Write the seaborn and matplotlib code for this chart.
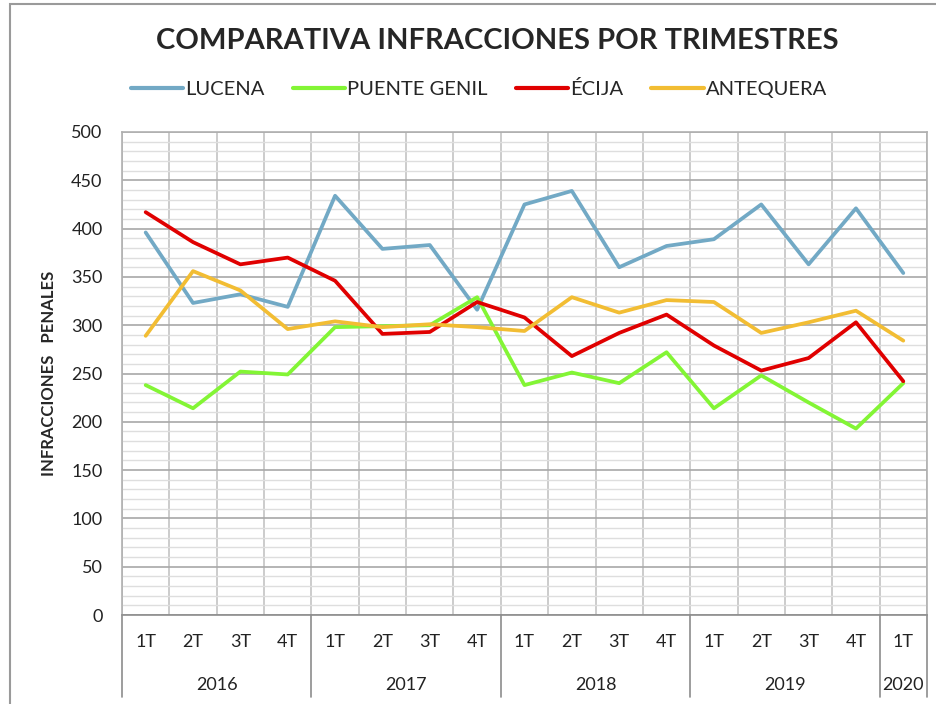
import numpy as np
import pandas as pd
import matplotlib
matplotlib.use("Agg")
import matplotlib.pyplot as plt
import matplotlib.transforms as mtransforms
from matplotlib.patches import Rectangle
import seaborn as sns

# datos
quarters = ["1T", "2T", "3T", "4T"] * 4 + ["1T"]
years = ["2016", "2017", "2018", "2019", "2020"]
year_counts = [4, 4, 4, 4, 1]

lucena = [396, 323, 332, 319, 434, 379, 383, 316, 425, 439, 360, 382, 389, 425, 363, 421, 354]
puente_genil = [238, 214, 252, 249, 298, 299, 300, 329, 238, 251, 240, 272, 214, 248, 220, 193, 240]
ecija = [417, 386, 363, 370, 346, 291, 293, 324, 308, 268, 292, 311, 279, 253, 266, 303, 242]
antequera = [289, 356, 336, 296, 304, 298, 301, 298, 294, 329, 313, 326, 324, 292, 303, 315, 284]

series = {"LUCENA": lucena, "PUENTE GENIL": puente_genil, "ÉCIJA": ecija, "ANTEQUERA": antequera}
colors = {"LUCENA": "#72a9c5", "PUENTE GENIL": "#83f535", "ÉCIJA": "#e00000", "ANTEQUERA": "#f2bd33"}

rows = []
for name, vals in series.items():
    for i, v in enumerate(vals):
        rows.append({"idx": i, "valor": v, "serie": name})
df = pd.DataFrame(rows)

sns.set_style("white")
plt.rcParams["font.family"] = ["Lato", "DejaVu Sans"]

fig = plt.figure(figsize=(9.37, 7.04), dpi=100)
ax = fig.add_axes([0.1302, 0.1264, 0.8591, 0.6861])

sns.lineplot(data=df, x="idx", y="valor", hue="serie", palette=colors,
             linewidth=2.7, ax=ax, legend=False, sort=False)

n = len(quarters)
ax.set_xlim(-0.5, n - 0.5)
ax.set_ylim(0, 500)
ax.set_yticks(np.arange(0, 501, 50))
ax.set_yticks(np.arange(0, 501, 10), minor=True)
ax.set_xticks(np.arange(n))
ax.set_xticklabels([])
ax.set_xticks(np.arange(n + 1) - 0.5, minor=True)
ax.tick_params(axis="both", which="both", length=0)
ax.tick_params(axis="y", labelsize=13, pad=14, colors="#222222")

ax.yaxis.grid(True, which="minor", color="#dedede", linewidth=1.0)
ax.yaxis.grid(True, which="major", color="#a8a8a8", linewidth=1.2)
ax.xaxis.grid(True, which="minor", color="#c4c4c4", linewidth=1.2)
ax.xaxis.grid(False, which="major")
ax.set_axisbelow(True)
for s in ax.spines.values():
    s.set_color("#b0b0b0")
    s.set_linewidth(1.2)
ax.spines["bottom"].set_color("#8c8c8c")

ax.set_xlabel("")
ax.set_ylabel("INFRACCIONES   PENALES", fontsize=12, fontweight="bold", labelpad=10)

# eje de categorias en dos niveles
trans = mtransforms.blended_transform_factory(ax.transData, ax.transAxes)
for i, q in enumerate(quarters):
    ax.text(i, -0.056, q, transform=trans, ha="center", va="center", fontsize=13, color="#222222")
start = 0
bounds = [-0.5]
for y, c in zip(years, year_counts):
    ax.text(start + (c - 1) / 2, -0.145, y, transform=trans, ha="center", va="center",
            fontsize=13, color="#222222")
    start += c
    bounds.append(start - 0.5)
for b in bounds:
    ax.plot([b, b], [0, -0.17], transform=trans, color="#8c8c8c", linewidth=1.2, clip_on=False)

# leyenda
handles = [plt.Line2D([], [], color=colors[k], linewidth=3) for k in series]
fig.legend(handles, list(series.keys()), loc="center", bbox_to_anchor=(0.511, 0.873), ncol=4,
           frameon=False, fontsize=14.5, handlelength=2.6, handletextpad=0.1, columnspacing=1.4)

fig.suptitle("COMPARATIVA INFRACCIONES POR TRIMESTRES", x=0.531, y=0.96, fontsize=21,
             fontweight="bold")

# marco exterior
fig.add_artist(Rectangle((10 / 937, -0.05), 1.0, 1.05 - 4 / 704, transform=fig.transFigure,
                         fill=False, edgecolor="#9a9a9a", linewidth=1.5))

fig.savefig("out.png", dpi=100)
